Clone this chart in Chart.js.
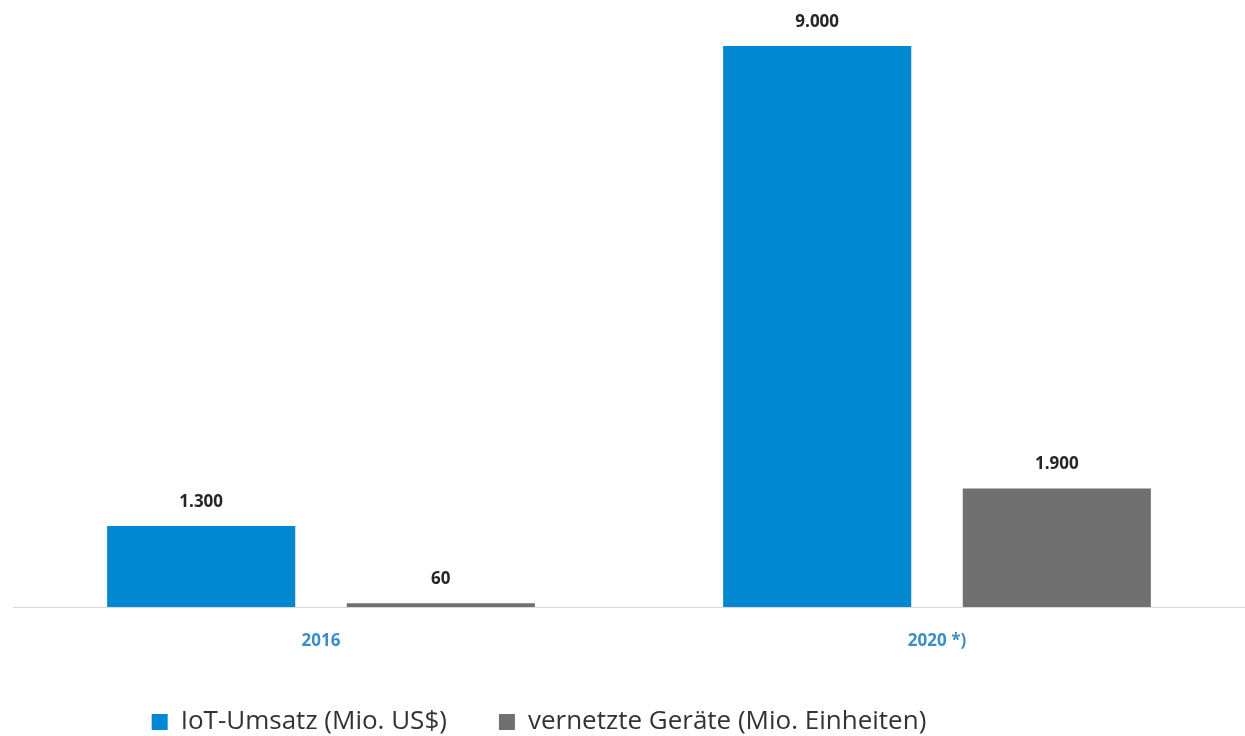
<!DOCTYPE html>
<html>
<head>
<meta charset="utf-8">
<script src="https://cdn.jsdelivr.net/npm/chart.js@4"></script>
<style>
    html, body { margin: 0; padding: 0; background: #ffffff; }
    #wrap { width: 1245px; height: 736px; }
</style>
</head>
<body>
<div id="wrap"><canvas id="iotChart"></canvas></div>
<script>
// ==========================================
// DATA
// ==========================================

const categories = ['2016', '2020 *)'];

const seriesNames = [
    'IoT-Umsatz (Mio. US$)',
    'vernetzte Geräte (Mio. Einheiten)'
];

const umsatzValues = [1300, 9000];
const geraeteValues = [60, 1900];

const seriesColors = ['#0288d1', '#707070'];

// value labels above bars (German number format)
const valueLabels = {
    id: 'valueLabels',
    afterDatasetsDraw(chart) {
        const ctx = chart.ctx;
        ctx.save();
        ctx.font = 'bold 17px "Open Sans", sans-serif';
        ctx.fillStyle = '#262626';
        ctx.textAlign = 'center';
        ctx.textBaseline = 'middle';
        chart.data.datasets.forEach((ds, i) => {
            chart.getDatasetMeta(i).data.forEach((bar, j) => {
                ctx.fillText(
                    ds.data[j].toLocaleString('de-DE'),
                    bar.x,
                    bar.y - 24
                );
            });
        });
        ctx.restore();
    }
};

// legend sits left of centre in the original
const legendShift = {
    id: 'legendShift',
    afterLayout(chart) {
        chart.legend.left -= 90;
        chart.legend.right -= 90;
    }
};

new Chart(document.getElementById('iotChart'), {

    type: 'bar',

    data: {
        labels: categories,
        datasets: [
            {
                label: seriesNames[0],
                data: umsatzValues,
                backgroundColor: seriesColors[0]
            },
            {
                label: seriesNames[1],
                data: geraeteValues,
                backgroundColor: seriesColors[1]
            }
        ]
    },

    options: {
        responsive: true,
        maintainAspectRatio: false,
        animation: false,
        categoryPercentage: 0.778,
        barPercentage: 0.785,

        layout: {
            padding: { top: 46, left: 13, right: 0, bottom: 0 }
        },

        plugins: {
            tooltip: { enabled: false },
            legend: {
                position: 'bottom',
                maxHeight: 79,
                labels: {
                    boxWidth: 16,
                    boxHeight: 16,
                    padding: 52,
                    color: '#333333',
                    font: { family: '"Open Sans", sans-serif', size: 26 }
                }
            }
        },

        scales: {
            y: {
                display: false,
                min: 0,
                max: 9000
            },
            x: {
                grid: { display: false, drawTicks: false },
                border: { display: true, color: '#d9d9d9', width: 1 },
                ticks: {
                    color: '#3a8fc6',
                    padding: 24,
                    font: { family: '"Open Sans", sans-serif', size: 17, weight: 'bold' }
                },
                afterFit(scale) {
                    scale.height = 50;
                }
            }
        }
    },

    plugins: [valueLabels, legendShift]
});
</script>
</body>
</html>
